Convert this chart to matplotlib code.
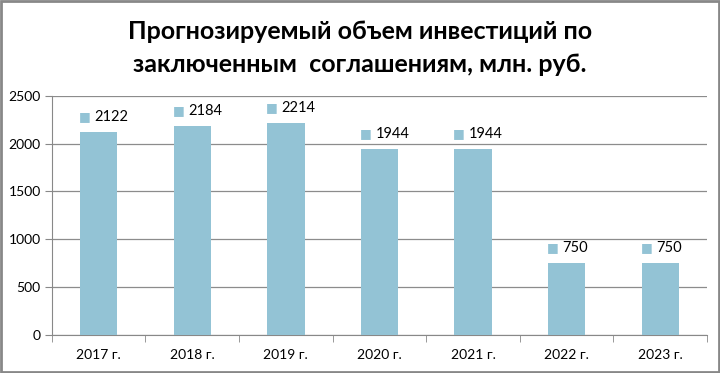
import matplotlib.pyplot as plt
from matplotlib.patches import Rectangle

# данные
years = ["2017 г.", "2018 г.", "2019 г.", "2020 г.", "2021 г.", "2022 г.", "2023 г."]
values = [2122, 2184, 2214, 1944, 1944, 750, 750]

bar_color = "#93c3d5"
font = ["Lato", "DejaVu Sans"]

fig = plt.figure(figsize=(7.2, 3.73), dpi=100)
ax = fig.add_axes([0.072, 0.102, 0.91, 0.641])

x = range(len(years))
ax.bar(x, values, width=0.4, color=bar_color, zorder=3)

# подписи значений: квадратик + число над столбцом
for xi, v in zip(x, values):
    ax.annotate("■", (xi, v), xytext=(-10, 11), textcoords="offset points",
                ha="center", va="center", color=bar_color, fontsize=9)
    ax.annotate(str(v), (xi, v), xytext=(-3, 11), textcoords="offset points",
                ha="left", va="center", fontsize=10.5, family=font)

ax.set_xlim(-0.5, len(years) - 0.5)
ax.set_ylim(0, 2500)
ax.set_yticks(range(0, 2501, 500))
ax.set_xticks([i + 0.5 for i in range(-1, len(years))], minor=True)
ax.set_xticks(list(x))
ax.set_xticklabels(years, family=font, fontsize=10)
for lab in ax.get_yticklabels():
    lab.set_family(font)
    lab.set_fontsize(10)

ax.tick_params(axis="x", which="major", length=0, pad=10)
ax.tick_params(axis="x", which="minor", length=5, color="#888888")
ax.tick_params(axis="y", length=5, color="#888888", pad=3)

ax.grid(axis="y", color="#8c8c8c", linewidth=0.9, zorder=0)
for s in ["top", "right"]:
    ax.spines[s].set_visible(False)
ax.spines["left"].set_color("#888888")
ax.spines["bottom"].set_color("#888888")

fig.text(0.5, 0.915, "Прогнозируемый объем инвестиций по", ha="center", va="center",
         fontsize=18, fontweight="bold", family=font)
fig.text(0.5, 0.828, "заключенным  соглашениям, млн. руб.", ha="center", va="center",
         fontsize=18, fontweight="bold", family=font)

# рамка вокруг рисунка
fig.patches.append(Rectangle((0.002, 0.003), 0.996, 0.994, transform=fig.transFigure,
                             fill=False, edgecolor="#888888", linewidth=2))

fig.savefig("out.png", dpi=100)
